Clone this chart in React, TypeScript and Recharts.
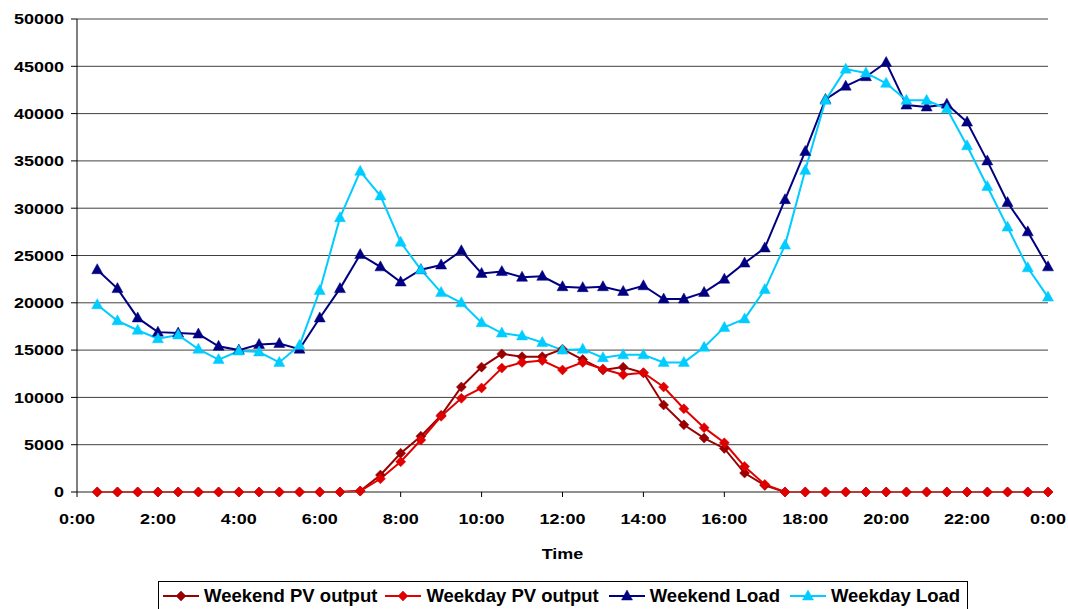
import React from 'react';
import { LineChart, Line, XAxis, YAxis, CartesianGrid, Legend } from 'recharts';

const hours = [0.5, 1, 1.5, 2, 2.5, 3, 3.5, 4, 4.5, 5, 5.5, 6, 6.5, 7, 7.5, 8, 8.5, 9, 9.5, 10, 10.5, 11, 11.5, 12, 12.5, 13, 13.5, 14, 14.5, 15, 15.5, 16, 16.5, 17, 17.5, 18, 18.5, 19, 19.5, 20, 20.5, 21, 21.5, 22, 22.5, 23, 23.5, 24];

const weekendPV = [0, 0, 0, 0, 0, 0, 0, 0, 0, 0, 0, 0, 0, 100, 1800, 4100, 5900, 8100, 11100, 13200, 14600, 14300, 14300, 15100, 14000, 12900, 13200, 12600, 9200, 7100, 5700, 4600, 2000, 700, 0, 0, 0, 0, 0, 0, 0, 0, 0, 0, 0, 0, 0, 0];
const weekdayPV = [0, 0, 0, 0, 0, 0, 0, 0, 0, 0, 0, 0, 0, 100, 1400, 3200, 5500, 8000, 9900, 11000, 13100, 13700, 13900, 12900, 13700, 13000, 12400, 12600, 11100, 8800, 6800, 5200, 2700, 800, 0, 0, 0, 0, 0, 0, 0, 0, 0, 0, 0, 0, 0, 0];
const weekendLoad = [23500, 21500, 18400, 16900, 16800, 16700, 15400, 15000, 15600, 15700, 15100, 18400, 21500, 25100, 23800, 22200, 23500, 24000, 25500, 23100, 23300, 22700, 22800, 21700, 21600, 21700, 21200, 21800, 20400, 20400, 21100, 22500, 24200, 25800, 30900, 36000, 41500, 42900, 43900, 45400, 40900, 40700, 41000, 39100, 35000, 30600, 27500, 23800];
const weekdayLoad = [19800, 18100, 17100, 16200, 16600, 15100, 14000, 14900, 14800, 13700, 15500, 21300, 29000, 33900, 31300, 26400, 23500, 21100, 20000, 17900, 16800, 16500, 15800, 15000, 15100, 14200, 14500, 14500, 13700, 13700, 15300, 17400, 18300, 21400, 26100, 34000, 41400, 44700, 44300, 43200, 41400, 41400, 40500, 36600, 32300, 28000, 23700, 20600];

const xTicks = [0, 2, 4, 6, 8, 10, 12, 14, 16, 18, 20, 22, 24];
const xTickLabels = ['0:00', '2:00', '4:00', '6:00', '8:00', '10:00', '12:00', '14:00', '16:00', '18:00', '20:00', '22:00', '0:00'];
const yTicks = [0, 5000, 10000, 15000, 20000, 25000, 30000, 35000, 40000, 45000, 50000];

const seriesNames = ['Weekend PV output', 'Weekday PV output', 'Weekend Load', 'Weekday Load'];
const seriesKeys = ['weekendPV', 'weekdayPV', 'weekendLoad', 'weekdayLoad'];
const seriesColors = ['#990000', '#e00000', '#000080', '#00ccff'];
const seriesMarkers = ['diamond', 'diamond', 'triangle', 'triangle'];

const data = hours.map((h, i) => ({
  h,
  weekendPV: weekendPV[i],
  weekdayPV: weekdayPV[i],
  weekendLoad: weekendLoad[i],
  weekdayLoad: weekdayLoad[i],
}));

const FONT = '"Liberation Sans", Arial, sans-serif';

function Marker({ cx, cy, kind, color }: { cx: number; cy: number; kind: string; color: string }) {
  if (cx == null || cy == null) return null;
  if (kind === 'diamond') {
    const r = 5;
    return <polygon points={`${cx},${cy - r} ${cx + r},${cy} ${cx},${cy + r} ${cx - r},${cy}`} fill={color} stroke={color} strokeWidth={0.5} />;
  }
  return <polygon points={`${cx},${cy - 6} ${cx + 5.5},${cy + 4} ${cx - 5.5},${cy + 4}`} fill={color} stroke={color} strokeWidth={0.5} />;
}

function XTick(props: any) {
  const { x, y, payload } = props;
  const idx = xTicks.indexOf(payload.value);
  const label = idx >= 0 ? xTickLabels[idx] : '';
  return (
    <g transform={`translate(${x},${y + 26.5}) scale(1.2,1)`}>
      <text x={0} y={0} textAnchor="middle" fontFamily={FONT} fontWeight="bold" fontSize={15} fill="#000">{label}</text>
    </g>
  );
}

function YTick(props: any) {
  const { x, y, payload } = props;
  return (
    <g transform={`translate(${x},${y + 5.3}) scale(1.2,1)`}>
      <text x={0} y={0} textAnchor="end" fontFamily={FONT} fontWeight="bold" fontSize={15} fill="#000">{payload.value}</text>
    </g>
  );
}

function TimeLabel(props: any) {
  const vb = props.viewBox || {};
  const cx = vb.x + vb.width / 2;
  const by = vb.y + 67;
  return (
    <g transform={`translate(${cx},${by}) scale(1.2,1)`}>
      <text x={0} y={0} textAnchor="middle" fontFamily={FONT} fontWeight="bold" fontSize={15} fill="#000">Time</text>
    </g>
  );
}

function LegendContent() {
  return (
    <div style={{ border: '1px solid #000', boxSizing: 'border-box', width: 810, height: 32, display: 'flex', alignItems: 'flex-start', paddingLeft: 4, paddingTop: 4, background: '#fff', fontFamily: FONT, fontWeight: 'bold', fontSize: 18.5, lineHeight: '20px', whiteSpace: 'nowrap' }}>
      {seriesNames.map((n, i) => (
        <div key={n} style={{ display: 'flex', alignItems: 'center', marginRight: i === 0 ? 8 : 10 }}>
          <svg width={36} height={20} style={{ marginRight: 5 }}>
            <line x1={0} y1={10} x2={36} y2={10} stroke={seriesColors[i]} strokeWidth={2} />
            <Marker cx={18} cy={10} kind={seriesMarkers[i]} color={seriesColors[i]} />
          </svg>
          <span>{n}</span>
        </div>
      ))}
    </div>
  );
}

export default function App() {
  return (
    <div style={{ position: 'absolute', left: 0, top: 0, width: 1068, height: 609, overflow: 'hidden', background: '#fff' }}>
      <LineChart width={1068} height={609} data={data} margin={{ top: 19, right: 20, bottom: 0, left: 0 }}>
        <CartesianGrid horizontal={true} vertical={false} stroke="#404040" strokeWidth={1} />
        <XAxis
          dataKey="h"
          type="number"
          domain={[0, 24]}
          ticks={xTicks}
          interval={0}
          height={117}
          tickSize={5}
          tickMargin={0}
          stroke="#000"
          axisLine={{ stroke: '#808080' }}
          tickLine={{ stroke: '#000' }}
          tick={<XTick />}
          label={<TimeLabel />}
        />
        <YAxis
          type="number"
          domain={[0, 50000]}
          ticks={yTicks}
          interval={0}
          width={77}
          tickSize={6}
          tickMargin={7}
          axisLine={{ stroke: '#000' }}
          tickLine={{ stroke: '#000' }}
          tick={<YTick />}
        />
        <Legend
          layout="horizontal"
          verticalAlign="middle"
          align="center"
          content={<LegendContent />}
          wrapperStyle={{ position: 'absolute', top: 581, left: 158, width: 810, height: 32 }}
        />
        {seriesKeys.map((k, i) => (
          <Line
            key={k}
            dataKey={k}
            name={seriesNames[i]}
            type="linear"
            stroke={seriesColors[i]}
            strokeWidth={2}
            isAnimationActive={false}
            dot={(p: any) => <Marker key={`${k}-${p.index}`} cx={p.cx} cy={p.cy} kind={seriesMarkers[i]} color={seriesColors[i]} />}
            activeDot={false}
          />
        ))}
      </LineChart>
    </div>
  );
}
